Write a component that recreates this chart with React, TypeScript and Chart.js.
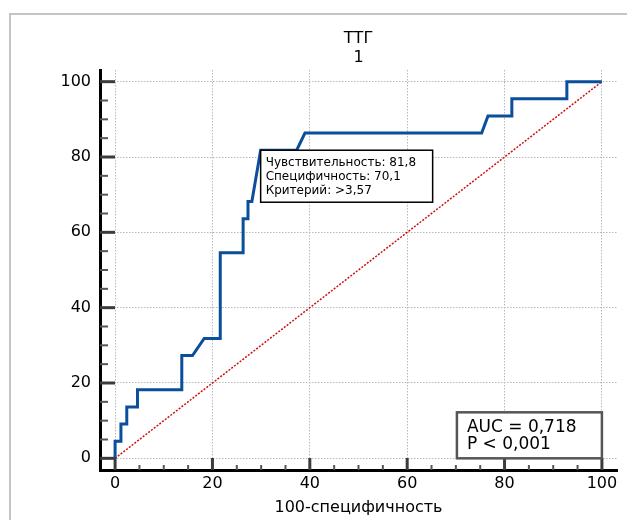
import React, { useEffect, useRef } from "react";
import { Chart, registerables } from "chart.js";

Chart.register(...registerables);

// ROC curve: 100 - specificity (x) and sensitivity (y)
const fpr = [0, 0, 1.2, 1.2, 2.4, 2.4, 4.6, 4.6, 13.7, 13.7, 15.9, 18.3, 21.6, 21.6, 26.3, 26.3, 27.3, 27.3, 28.1, 29.9, 37.3, 39.0, 75.3, 76.6, 81.5, 81.5, 92.8, 92.8, 100];
const sens = [0, 4.55, 4.55, 9.09, 9.09, 13.64, 13.64, 18.18, 18.18, 27.27, 27.27, 31.82, 31.82, 54.55, 54.55, 63.64, 63.64, 68.18, 68.18, 81.82, 81.82, 86.36, 86.36, 90.91, 90.91, 95.45, 95.45, 100, 100];
const diagX = [0, 100];
const diagY = [0, 100];

const tickValues = [0, 5, 10, 15, 20, 25, 30, 35, 40, 45, 50, 55, 60, 65, 70, 75, 80, 85, 90, 95, 100];
const labeledTicks = [0, 20, 40, 60, 80, 100];

const titleLines = ["ТТГ", "1"];
const xTitle = "100-специфичность";
const criterionPoint = [29.9, 81.8];
const criterionLines = ["Чувствительность: 81,8", "Специфичность: 70,1", "Критерий: >3,57"];
const aucLines = ["AUC = 0,718", "P < 0,001"];

const FONT = "'DejaVu Sans', 'Liberation Sans', Arial, sans-serif";

const decorPlugin = {
  id: "decor",
  beforeDraw(chart: any) {
    const ctx = chart.ctx;
    ctx.save();
    ctx.strokeStyle = "#c4c4c4";
    ctx.lineWidth = 2;
    ctx.beginPath();
    ctx.moveTo(10, 520);
    ctx.lineTo(10, 14);
    ctx.lineTo(627, 14);
    ctx.stroke();
    ctx.restore();
  },
  afterDraw(chart: any) {
    const { ctx, chartArea } = chart;
    const xs = chart.scales.x;
    const ys = chart.scales.y;
    ctx.save();
    ctx.setLineDash([]);
    // tick marks pointing inward from the offset axes
    for (const v of tickValues) {
      const major = labeledTicks.includes(v);
      ctx.strokeStyle = major ? "#3c3c3c" : "#555555";
      ctx.lineWidth = major ? 3 : 2;
      const px = xs.getPixelForValue(v);
      ctx.beginPath();
      ctx.moveTo(px, chartArea.bottom);
      ctx.lineTo(px, chartArea.bottom - (major ? 12 : 5));
      ctx.stroke();
      const py = ys.getPixelForValue(v);
      ctx.beginPath();
      ctx.moveTo(chartArea.left, py);
      ctx.lineTo(chartArea.left + (major ? 15 : 8), py);
      ctx.stroke();
    }

    // criterion box anchored at the cut-off point
    const cx = xs.getPixelForValue(criterionPoint[0]);
    const cy = ys.getPixelForValue(criterionPoint[1]);
    const cw = 172, ch = 52;
    ctx.fillStyle = "#ffffff";
    ctx.fillRect(cx, cy, cw, ch);
    ctx.strokeStyle = "#000000";
    ctx.lineWidth = 1.5;
    ctx.strokeRect(cx, cy, cw, ch);
    ctx.fillStyle = "#000000";
    ctx.font = `12px ${FONT}`;
    ctx.textAlign = "left";
    ctx.textBaseline = "middle";
    criterionLines.forEach((t, i) => ctx.fillText(t, cx + 5, cy + 12.5 + i * 14.2));

    // AUC box anchored at the bottom-right of the data range
    const ar = xs.getPixelForValue(100);
    const ab = ys.getPixelForValue(0);
    const aw = 145, ah = 46;
    ctx.fillStyle = "#ffffff";
    ctx.fillRect(ar - aw, ab - ah, aw, ah);
    ctx.strokeStyle = "#555555";
    ctx.lineWidth = 2.5;
    ctx.strokeRect(ar - aw, ab - ah, aw, ah);
    ctx.fillStyle = "#000000";
    ctx.font = `17px ${FONT}`;
    aucLines.forEach((t, i) => ctx.fillText(t, ar - aw + 10, ab - ah + 15 + i * 17.5));
    ctx.restore();
  },
};

export default function App() {
  const ref = useRef<HTMLCanvasElement | null>(null);
  useEffect(() => {
    document.body.style.margin = "0";
    const canvas = ref.current;
    if (!canvas) return;
    const setTicks = (scale: any) => {
      scale.ticks = tickValues.map((v) => ({ value: v }));
    };
    const gridColor = (c: any) =>
      c.tick && labeledTicks.includes(c.tick.value) ? "#b8b8b8" : "rgba(0,0,0,0)";
    const chart = new Chart(canvas, {
      type: "line",
      data: {
        datasets: [
          {
            data: fpr.map((v, i) => ({ x: v, y: sens[i] })),
            borderColor: "#0b4f9c",
            borderWidth: 3,
            pointRadius: 0,
            tension: 0,
            fill: false,
          },
          {
            data: diagX.map((v, i) => ({ x: v, y: diagY[i] })),
            borderColor: "#cc1111",
            borderWidth: 1.5,
            borderDash: [2, 1.5],
            pointRadius: 0,
            fill: false,
          },
        ],
      },
      plugins: [decorPlugin],
      options: {
        responsive: false,
        animation: false,
        devicePixelRatio: 1,
        layout: { padding: { left: 0, right: 10, top: 0, bottom: 0 } },
        plugins: {
          legend: { display: false },
          tooltip: { enabled: false },
          title: {
            display: true,
            text: titleLines,
            fullSize: false,
            color: "#000000",
            font: { family: FONT, size: 16, weight: "normal" },
            padding: { top: 29.4, bottom: 2.2 },
          },
        },
        scales: {
          x: {
            type: "linear",
            min: -3.1,
            max: 103.1,
            afterBuildTicks: setTicks,
            afterFit: (s: any) => {
              s.height = 50;
            },
            grid: { color: gridColor, lineWidth: 1, drawTicks: false },
            border: { display: true, color: "#000000", width: 3, dash: [1.5, 1.5] },
            ticks: {
              padding: 4,
              color: "#000000",
              font: { family: FONT, size: 16 },
              maxRotation: 0,
              autoSkip: false,
              callback: (v: any) => (labeledTicks.includes(Number(v)) ? String(v) : ""),
            },
            title: {
              display: true,
              text: xTitle,
              color: "#000000",
              font: { family: FONT, size: 16 },
              padding: { top: 0, bottom: 2.4 },
            },
          },
          y: {
            type: "linear",
            min: -3.1,
            max: 103.1,
            afterBuildTicks: setTicks,
            afterFit: (s: any) => {
              s.width = 100;
            },
            grid: { color: gridColor, lineWidth: 1, drawTicks: false },
            border: { display: true, color: "#000000", width: 3, dash: [1.5, 1.5] },
            ticks: {
              padding: 9,
              color: "#000000",
              font: { family: FONT, size: 16 },
              autoSkip: false,
              callback: (v: any) => (labeledTicks.includes(Number(v)) ? String(v) : ""),
            },
          },
        },
      },
    } as any);
    return () => chart.destroy();
  }, []);
  return (
    <div style={{ width: 627, height: 520 }}>
      <canvas ref={ref} width={627} height={520} style={{ display: "block" }} />
    </div>
  );
}
